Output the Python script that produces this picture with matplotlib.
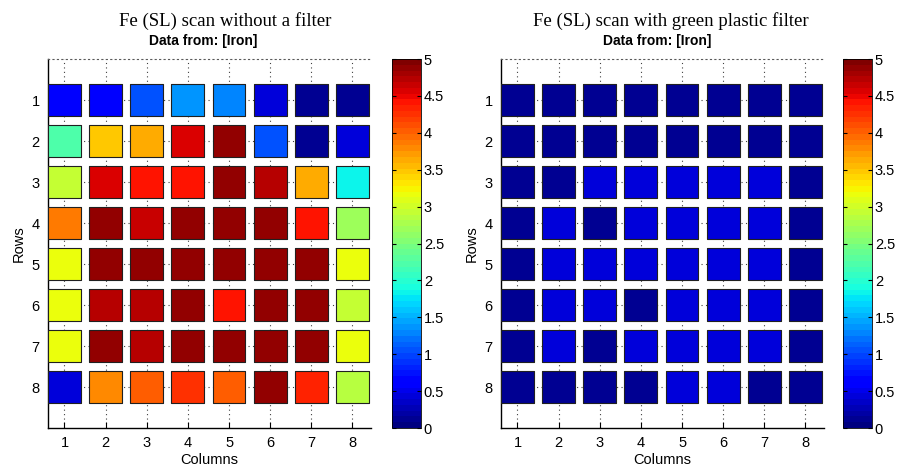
import numpy as np
import matplotlib
matplotlib.use("Agg")
import matplotlib.pyplot as plt
from matplotlib.colors import ListedColormap, Normalize

columns = [1, 2, 3, 4, 5, 6, 7, 8]
rows = [1, 2, 3, 4, 5, 6, 7, 8]

no_filter = [
    [0.55, 0.55, 1.05, 1.4, 1.25, 0.45, 0.1, 0.1],
    [2.2, 3.45, 3.6, 4.6, 4.9, 1.05, 0.1, 0.45],
    [2.9, 4.6, 4.4, 4.4, 4.9, 4.7, 3.6, 1.8],
    [3.85, 4.9, 4.65, 4.9, 4.9, 4.85, 4.4, 2.7],
    [3.2, 4.9, 4.9, 4.9, 4.9, 4.9, 4.9, 3.2],
    [3.15, 4.7, 4.7, 4.9, 4.4, 4.85, 4.9, 2.9],
    [3.2, 4.9, 4.75, 4.9, 4.9, 4.85, 4.9, 3.2],
    [0.45, 3.8, 4.0, 4.25, 4.0, 4.85, 4.3, 2.85],
]

green_filter = [
    [0.1, 0.1, 0.1, 0.1, 0.1, 0.1, 0.1, 0.1],
    [0.1, 0.1, 0.1, 0.1, 0.1, 0.1, 0.1, 0.1],
    [0.1, 0.1, 0.4, 0.4, 0.4, 0.4, 0.4, 0.1],
    [0.1, 0.4, 0.1, 0.4, 0.4, 0.4, 0.4, 0.1],
    [0.1, 0.4, 0.4, 0.4, 0.4, 0.4, 0.4, 0.1],
    [0.1, 0.4, 0.4, 0.1, 0.4, 0.4, 0.4, 0.1],
    [0.1, 0.4, 0.1, 0.4, 0.4, 0.4, 0.4, 0.1],
    [0.1, 0.1, 0.1, 0.1, 0.4, 0.4, 0.1, 0.1],
]

titles = ["Fe (SL) scan without a filter", "Fe (SL) scan with green plastic filter"]
subtitle = "Data from: [Iron]"
cbar_ticks = [0, 0.5, 1, 1.5, 2, 2.5, 3, 3.5, 4, 4.5, 5]
cbar_labels = ["0", "0.5", "1", "1.5", "2", "2.5", "3", "3.5", "4", "4.5", "5"]

W, H = 900, 473
fig = plt.figure(figsize=(W / 100, H / 100), dpi=100)
cmap = ListedColormap(plt.get_cmap("jet")(np.linspace(0, 1, 64)))
norm = Normalize(0, 5)
sans = "Liberation Sans"
serif = "Liberation Serif"

def fr(x0, y0, x1, y1):
    return [x0 / W, (H - y1) / H, (x1 - x0) / W, (y1 - y0) / H]

panels = [
    (no_filter, fr(48, 59, 371, 428), fr(392, 59, 421, 428), 225, 203),
    (green_filter, fr(501, 59, 824, 428), fr(843, 59, 872, 428), 671, 657),
]

for i, (data, apos, cpos, tx, sx) in enumerate(panels):
    ax = fig.add_axes(apos)
    arr = np.array(data)
    cc, rr = np.meshgrid(columns, rows)
    ax.set_xlim(0.6, 8.45)
    ax.set_ylim(9.0, 0.0)
    ax.set_xticks(columns)
    ax.set_yticks(rows)
    ax.grid(True, linestyle=(0, (1, 3)), color="0.25", linewidth=0.8)
    ax.set_axisbelow(True)
    ax.scatter(cc.ravel(), rr.ravel(), c=arr.ravel(), cmap=cmap, norm=norm,
               marker="s", s=560, edgecolors="#202020", linewidths=0.8, zorder=3)
    ax.spines["right"].set_visible(False)
    ax.spines["top"].set_linestyle((0, (1, 3)))
    ax.spines["top"].set_color("0.35")
    ax.spines["left"].set_linewidth(1.0)
    ax.spines["bottom"].set_linewidth(1.0)
    ax.tick_params(direction="in", length=4, labelsize=10.5, pad=6)
    for lab in ax.get_xticklabels() + ax.get_yticklabels():
        lab.set_fontfamily(sans)
    ax.set_xlabel("Columns", fontsize=10.5, fontfamily=sans, labelpad=2)
    ax.set_ylabel("Rows", fontsize=10.5, fontfamily=sans, labelpad=4)
    fig.text(tx / W, 1 - 21 / H, titles[i], ha="center", va="center",
             fontsize=13.5, fontfamily=serif)
    fig.text(sx / W, 1 - 41 / H, subtitle, ha="center", va="center",
             fontsize=10, fontweight="bold", fontfamily=sans)

    cax = fig.add_axes(cpos)
    cb = fig.colorbar(plt.cm.ScalarMappable(norm=norm, cmap=cmap), cax=cax)
    cb.set_ticks(cbar_ticks)
    cb.set_ticklabels(cbar_labels)
    cb.outline.set_linewidth(0.6)
    cax.tick_params(direction="in", length=3, labelsize=10.5, pad=2, left=True, right=True)
    for lab in cax.get_yticklabels():
        lab.set_fontfamily(sans)

fig.savefig("out.png", dpi=100, facecolor="white")
